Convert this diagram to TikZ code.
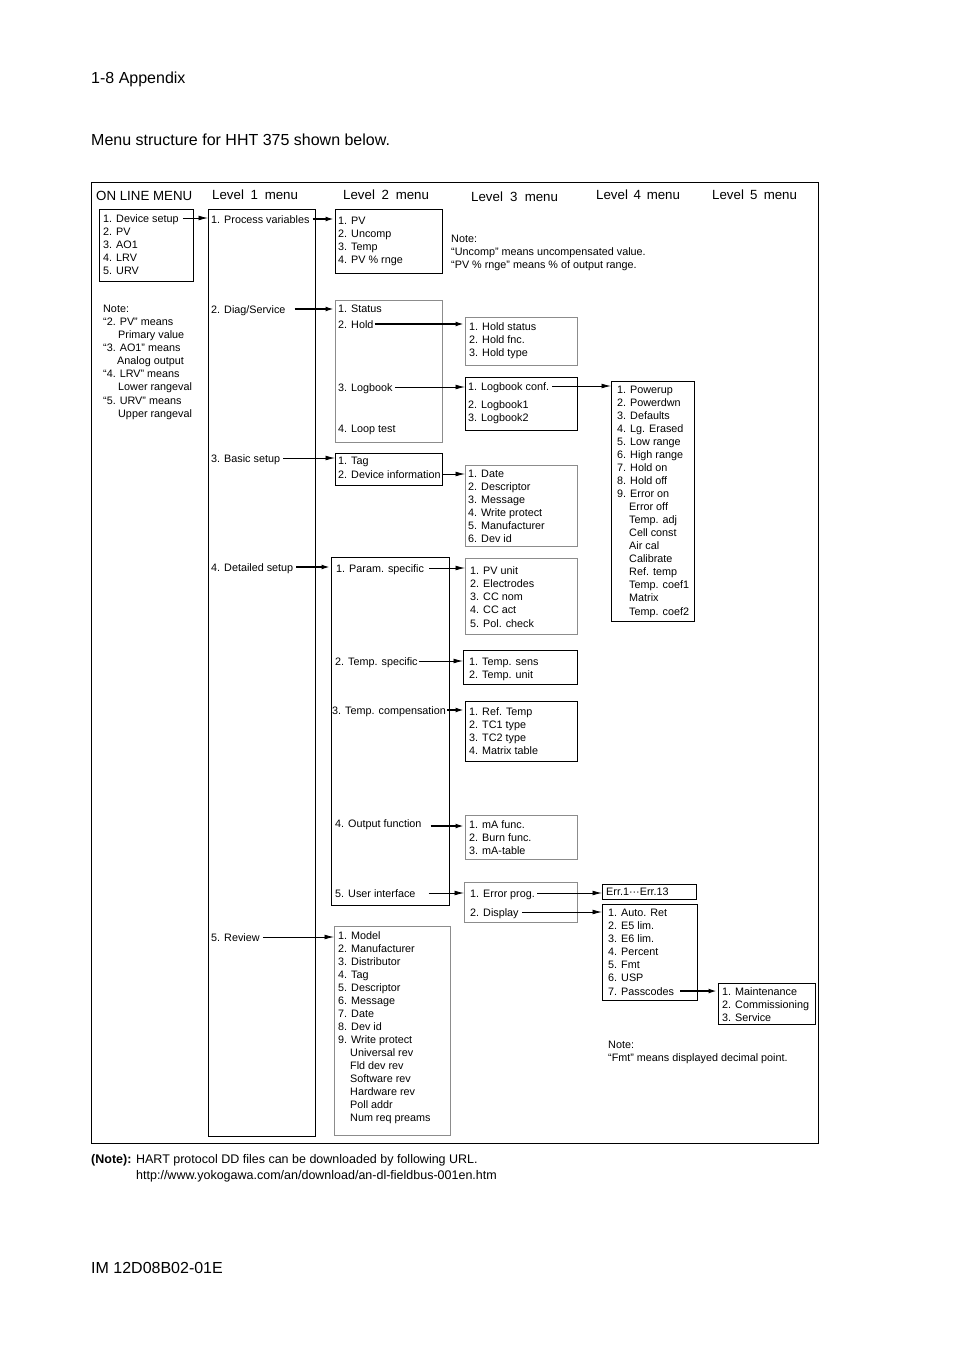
\documentclass[tikz,border=0pt]{standalone}
\usepackage{fontspec}
\setmainfont{Liberation Sans}
\usetikzlibrary{arrows.meta}
\begin{document}
\begin{tikzpicture}[x=1pt,y=-1pt,
  item/.style={anchor=west,inner sep=0pt,text height=8pt,text depth=0pt,font=\fontsize{10.8}{13}\selectfont},
  hdr/.style={anchor=west,inner sep=0pt,text height=9.5pt,text depth=0pt,font=\fontsize{13.3}{15}\selectfont},
  big/.style={anchor=west,inner sep=0pt,text height=11.5pt,text depth=0pt,font=\fontsize{16}{19}\selectfont},
  foot/.style={anchor=west,inner sep=0pt,text height=9pt,text depth=0pt,font=\fontsize{12.5}{14}\selectfont},
  bbox/.style={draw=black,line width=0.8pt,anchor=north west,inner sep=0pt},
  gbox/.style={draw=black!45,line width=1pt,anchor=north west,inner sep=0pt},
  arr/.style={-{Latex[length=9.5pt,width=4.8pt]},line width=0.8pt},
  tarr/.style={-{Latex[length=9.5pt,width=4.8pt]},line width=2pt},
]
\useasboundingbox (0,0) rectangle (954,1350);
\fill[white] (0,0) rectangle (954,1350);

% page texts
\node[big] (pagehead) at (91,78) {1-8 Appendix};
\node[big] (intro) at (91,140) {Menu structure for HHT 375 shown below.};
\node[big] (docid) at (91,1268) {IM 12D08B02-01E};
\node[foot] (foot1) at (91,1159) {\textbf{(Note):} HART protocol DD files can be downloaded by following URL.};
\node[foot] (foot2) at (136,1175) {http://www.yokogawa.com/an/download/an-dl-fieldbus-001en.htm};

% outer frame
\node[draw=black,line width=0.9pt,anchor=north west,inner sep=0pt,minimum width=727,minimum height=961] (frame) at (91,182) {};

% headers
\node[hdr] (h0) at (96,196) {ON LINE MENU};
\node[hdr] (h1) at (212,195) {Level\hspace{3pt} 1\hspace{3pt} menu};
\node[hdr] (h2) at (343,195) {Level\hspace{3pt} 2\hspace{3pt} menu};
\node[hdr] (h3) at (471,197) {Level\hspace{3.5pt} 3\hspace{3.5pt} menu};
\node[hdr] (h4) at (596,195) {Level\hspace{2pt} 4\hspace{2pt} menu};
\node[hdr] (h5) at (712,195) {Level\hspace{2.5pt} 5\hspace{2.5pt} menu};

% ON LINE MENU box
\node[bbox,minimum width=94,minimum height=72] (onbox) at (99,209) {};
\foreach \t [count=\i] in {1. Device setup,2. PV,3. AO1,4. LRV,5. URV}
  \node[item] (on-\i) at (103,{218+13*(\i-1)}) {\t};

% left note
\node[item] (ln1) at (103,308) {Note:};
\node[item] (ln2) at (103,321) {“2. PV” means};
\node[item] (ln3) at (118,334) {Primary value};
\node[item] (ln4) at (103,347) {“3. AO1” means};
\node[item] (ln5) at (117,360) {Analog output};
\node[item] (ln6) at (103,373) {“4. LRV” means};
\node[item] (ln7) at (118,386) {Lower rangeval};
\node[item] (ln8) at (103,400) {“5. URV” means};
\node[item] (ln9) at (118,413) {Upper rangeval};

% Level 1
\node[bbox,minimum width=107,minimum height=927] (l1box) at (208,209) {};
\node[item] (l1a) at (211,219) {1. Process variables};
\node[item] (l1b) at (211,309) {2. Diag/Service};
\node[item] (l1c) at (211,458) {3. Basic setup};
\node[item] (l1d) at (211,567) {4. Detailed setup};
\node[item] (l1e) at (211,937) {5. Review};

% Level 2
\node[bbox,minimum width=107,minimum height=64] (pvbox) at (335,209) {};
\foreach \t [count=\i] in {1. PV,2. Uncomp,3. Temp,4. PV \% rnge}
  \node[item] (pv-\i) at (338,{220+13*(\i-1)}) {\t};

\node[gbox,minimum width=107,minimum height=142] (diagbox) at (335,300) {};
\node[item] (d-1) at (338,308) {1. Status};
\node[item] (d-2) at (338,324) {2. Hold};
\node[item] (d-3) at (338,387) {3. Logbook};
\node[item] (d-4) at (338,428) {4. Loop test};

\node[bbox,minimum width=107,minimum height=32] (tagbox) at (335,453) {};
\node[item] (t-1) at (338,460) {1. Tag};
\node[item] (t-2) at (338,474) {2. Device information};

\node[bbox,minimum width=118,minimum height=348] (detbox) at (331,557) {};
\node[item] (ds-1) at (336,568) {1. Param. specific};
\node[item] (ds-2) at (335,661) {2. Temp. specific};
\node[item] (ds-3) at (332,710) {3. Temp. compensation};
\node[item] (ds-4) at (335,823) {4. Output function};
\node[item] (ds-5) at (335,893) {5. User interface};

\node[gbox,minimum width=116,minimum height=209] (revbox) at (334,926) {};
\foreach \t [count=\i] in {1. Model,2. Manufacturer,3. Distributor,4. Tag,5. Descriptor,6. Message,7. Date,8. Dev id,9. Write protect}
  \node[item] (rv-\i) at (338,{935+13.07*(\i-1)}) {\t};
\foreach \t [count=\i] in {Universal rev,Fld dev rev,Software rev,Hardware rev,Poll addr,Num req preams}
  \node[item] (rvx-\i) at (350,{935+13.07*(\i+8)}) {\t};

% Level 3
\node[item] (n3a) at (451,238) {Note:};
\node[item] (n3b) at (451,251) {“Uncomp” means uncompensated value.};
\node[item] (n3c) at (451,264) {“PV \% rnge” means \% of output range.};

\node[gbox,minimum width=112,minimum height=48] (holdbox) at (465,317) {};
\foreach \t [count=\i] in {1. Hold status,2. Hold fnc.,3. Hold type}
  \node[item] (hd-\i) at (469,{326+13*(\i-1)}) {\t};

\node[bbox,minimum width=112,minimum height=53] (lbbox) at (465,377) {};
\node[item] (lb-1) at (468,386) {1. Logbook conf.};
\node[item] (lb-2) at (468,404) {2. Logbook1};
\node[item] (lb-3) at (468,417) {3. Logbook2};

\node[gbox,minimum width=112,minimum height=81] (datebox) at (465,465) {};
\foreach \t [count=\i] in {1. Date,2. Descriptor,3. Message,4. Write protect,5. Manufacturer,6. Dev id}
  \node[item] (dt-\i) at (468,{473+13*(\i-1)}) {\t};

\node[gbox,minimum width=112,minimum height=76] (pvubox) at (465,558) {};
\foreach \t [count=\i] in {1. PV unit,2. Electrodes,3. CC nom,4. CC act,5. Pol. check}
  \node[item] (pu-\i) at (470,{570+13.25*(\i-1)}) {\t};

\node[bbox,minimum width=114,minimum height=34] (tsbox) at (463,650) {};
\node[item] (ts-1) at (469,661) {1. Temp. sens};
\node[item] (ts-2) at (469,674) {2. Temp. unit};

\node[bbox,minimum width=112,minimum height=60] (rtbox) at (465,701) {};
\foreach \t [count=\i] in {1. Ref. Temp,2. TC1 type,3. TC2 type,4. Matrix table}
  \node[item] (rt-\i) at (469,{711+13*(\i-1)}) {\t};

\node[gbox,minimum width=112,minimum height=44] (mabox) at (465,815) {};
\foreach \t [count=\i] in {1. mA func.,2. Burn func.,3. mA-table}
  \node[item] (ma-\i) at (469,{824+13*(\i-1)}) {\t};

\node[gbox,minimum width=113,minimum height=40] (epbox) at (464,882) {};
\node[item] (ep-1) at (470,893) {1. Error prog.};
\node[item] (ep-2) at (470,912) {2. Display};

% Level 4
\node[bbox,minimum width=83,minimum height=240] (pubox) at (611,381) {};
\foreach \t [count=\i] in {1. Powerup,2. Powerdwn,3. Defaults,4. Lg. Erased,5. Low range,6. High range,7. Hold on,8. Hold off,9. Error on}
  \node[item] (pw-\i) at (617,{389+13.06*(\i-1)}) {\t};
\foreach \t [count=\i] in {Error off,Temp. adj,Cell const,Air cal,Calibrate,Ref. temp,Temp. coef1,Matrix,Temp. coef2}
  \node[item] (pwx-\i) at (629,{389+13.06*(\i+8)}) {\t};

\node[bbox,minimum width=94,minimum height=15] (errbox) at (602,884) {};
\node[item] (err) at (606,891.5) {Err.1···Err.13};

\node[bbox,minimum width=95,minimum height=96] (arbox) at (602,904) {};
\foreach \t [count=\i] in {1. Auto. Ret,2. E5 lim.,3. E6 lim.,4. Percent,5. Fmt,6. USP,7. Passcodes}
  \node[item] (ar-\i) at (608,{912+13.17*(\i-1)}) {\t};

\node[item] (n4a) at (608,1044) {Note:};
\node[item] (n4b) at (608,1057) {“Fmt” means displayed decimal point.};

% Level 5
\node[bbox,minimum width=97,minimum height=41] (l5box) at (718,983) {};
\foreach \t [count=\i] in {1. Maintenance,2. Commissioning,3. Service}
  \node[item] (l5-\i) at (722,{991+13*(\i-1)}) {\t};

% connectors
\draw[arr]  ([xshift=4pt]on-1.east) -- (on-1.east -| l1box.west);
\draw[tarr] ([xshift=3pt]l1a.east) -- (l1a.east -| pvbox.west);
\draw[tarr] ([xshift=9pt]l1b.east) -- (l1b.east -| diagbox.west);
\draw[arr]  ([xshift=3pt]l1c.east) -- (l1c.east -| tagbox.west);
\draw[tarr] ([xshift=3pt]l1d.east) -- (l1d.east -| detbox.west);
\draw[arr]  ([xshift=3pt]l1e.east) -- (l1e.east -| revbox.west);

\draw[tarr] ([xshift=1pt]d-2.east) -- (d-2.east -| holdbox.west);
\draw[arr]  ([xshift=2pt]d-3.east) -- (d-3.east -| lbbox.west);
\draw[arr]  ([xshift=2pt]t-2.east) -- (t-2.east -| datebox.west);
\draw[arr]  ([xshift=5pt]ds-1.east) -- (ds-1.east -| pvubox.west);
\draw[arr]  ([xshift=1pt]ds-2.east) -- (ds-2.east -| tsbox.west);
\draw[tarr] ([xshift=1pt]ds-3.east) -- (ds-3.east -| rtbox.west);
\draw[tarr] ([xshift=9pt,yshift=-3pt]ds-4.east) -- ([yshift=-3pt]ds-4.east -| mabox.west);
\draw[arr]  ([xshift=13pt]ds-5.east) -- (ds-5.east -| epbox.west);

\draw[arr]  ([xshift=3pt]lb-1.east) -- (lb-1.east -| pubox.west);
\draw[arr]  ([xshift=2pt]ep-1.east) -- (ep-1.east -| errbox.west);
\draw[arr]  ([xshift=3pt]ep-2.east) -- (ep-2.east -| arbox.west);
\draw[tarr] ([xshift=6pt]ar-7.east) -- (ar-7.east -| l5box.west);
\end{tikzpicture}
\end{document}
